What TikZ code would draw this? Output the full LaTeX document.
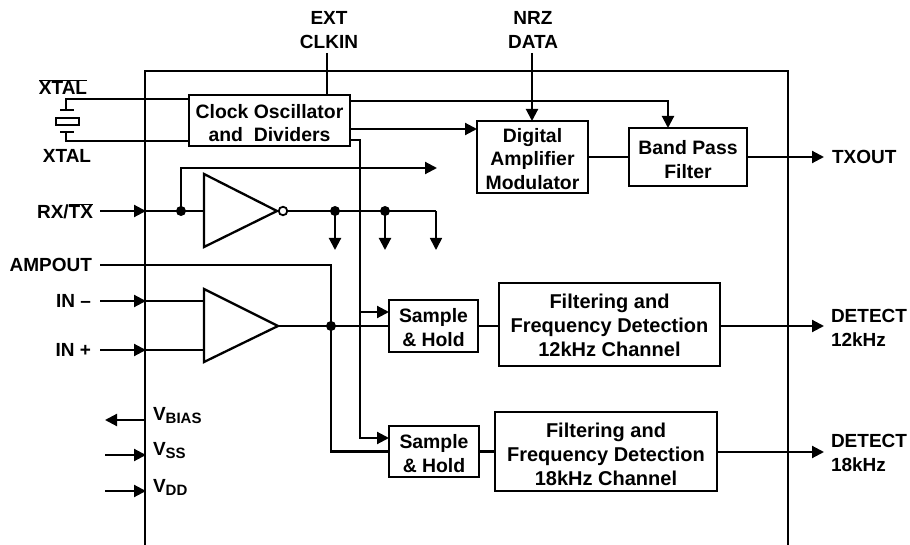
\documentclass[tikz,border=0pt]{standalone}
\usepackage{fontspec}
\setmainfont{Liberation Sans}
\usetikzlibrary{arrows.meta}
\newcommand{\ovl}[1]{\ensuremath{\overline{\mbox{\bfseries #1}}}}
\newcommand{\vsub}[1]{V\raisebox{-3pt}{\fontsize{15}{15}\selectfont\bfseries #1}}
\newcommand{\dn}[1]{\rule{0pt}{\dimexpr 14pt+#1pt*2\relax}}
\tikzset{
  wire/.style={line width=2.1pt,line join=miter},
  thin wire/.style={line width=1.7pt},
  arr/.style={wire,-{Triangle[length=12pt,width=12pt]}},
  box/.style={draw,line width=2.5pt,fill=white,inner sep=0pt,outer sep=0pt,align=center,font=\fontsize{19.4}{24}\selectfont\bfseries},
  widebox/.style={box,font=\fontsize{20}{24}\selectfont\bfseries},
  lab/.style={inner sep=0pt,outer sep=0pt,align=center,font=\fontsize{19}{24}\selectfont\bfseries},
  lableft/.style={lab,anchor=east},
  labstart/.style={lab,anchor=west,align=left},
  amp/.style={draw,line width=2.3pt,line join=miter},
  junction/.style={circle,fill=black,inner sep=0pt,minimum size=10pt},
  bubble/.style={circle,draw,fill=white,line width=1.8pt,inner sep=0pt,minimum size=8.5pt},
  plate/.style={line width=2.3pt}
}
\begin{document}
\begin{tikzpicture}[x=1pt,y=-1pt]
\useasboundingbox (0,0) rectangle (910,545);
% chip outline (open at the bottom)
\draw[line width=2.2pt] (145,545) -- (145,71) -- (788,71) -- (788,545);

% blocks
\node[box,minimum width=161pt,minimum height=51pt] (clock) at (269.5,120.5) {\dn{3}Clock Oscillator\\[-1pt]and~ Dividers};
\node[box,minimum width=111pt,minimum height=72pt,font=\fontsize{19.4}{23.5}\selectfont\bfseries] (dig) at (532.5,157) {\dn{2}Digital\\Amplifier\\Modulator};
\node[box,minimum width=118pt,minimum height=58pt] (bpf) at (688,157) {\dn{3}Band Pass\\Filter};
\node[box,minimum width=89pt,minimum height=52pt] (sh1) at (433.5,326) {\dn{2}Sample\\\& Hold};
\node[box,minimum width=90pt,minimum height=51pt] (sh2) at (434,451.5) {\dn{2}Sample\\\& Hold};
\node[widebox,minimum width=221pt,minimum height=83pt] (f1) at (609.5,324.5) {\dn{1}Filtering and\\Frequency Detection\\12kHz Channel};
\node[widebox,minimum width=222pt,minimum height=79pt] (f2) at (606,451.5) {\dn{3}Filtering and\\Frequency Detection\\18kHz Channel};

% amplifiers
\coordinate (invL) at (204,211);
\coordinate (invR) at (277,211);
\draw[amp] (204,174) -- (invR) -- (204,247) -- cycle;
\coordinate (ampL) at (204,326);
\coordinate (ampR) at (278,326);
\draw[amp] (204,289) -- (ampR) -- (204,362) -- cycle;
\node[bubble] (bub) at (283,211) {};

% outer labels
\node[lab] (ext) at (329,30) {EXT\\CLKIN};
\node[lab] (nrz) at (533,30) {NRZ\\DATA};
\node[lab] (xtalb) at (63,87) {\ovl{XTAL}};
\node[lab] (xtal) at (67,156) {XTAL};
\node[lableft] (rxtx) at (93,211) {RX/\ovl{TX}};
\node[lableft] (ampout) at (92,265) {AMPOUT};
\node[lableft] (inm) at (91,301) {IN –};
\node[lableft] (inp) at (91,350) {IN +};
\node[labstart] (tx) at (832,157) {TXOUT};
\node[labstart] (d12) at (831,328) {DETECT\\12kHz};
\node[labstart] (d18) at (831,453) {DETECT\\18kHz};
\node[labstart] (vb) at (153,416) {\vsub{BIAS}};
\node[labstart] (vs) at (153,451) {\vsub{SS}};
\node[labstart] (vd) at (153,487) {\vsub{DD}};

% named points
\coordinate (extE) at (327,53);
\coordinate (nrzE) at (532,53);
\coordinate (clkA) at (350,101);
\coordinate (bpfA) at (668,128);
\coordinate (clkB) at (350,129);
\coordinate (digB) at (477,129);
\coordinate (clkC) at (350,140);
\coordinate (vbus) at (360,140);
\coordinate (sh1A) at (389,312);
\coordinate (sh2A) at (389,438);
\coordinate (rxS) at (100,211);
\coordinate (pinR) at (146,211);
\coordinate (fbTip) at (437,168);
\coordinate (ampS) at (100,265);
\coordinate (inmS) at (100,301);
\coordinate (inmP) at (146,301);
\coordinate (inmA) at (204,301);
\coordinate (inpS) at (100,350);
\coordinate (inpP) at (146,350);
\coordinate (inpA) at (204,350);
\coordinate (txT) at (824,157);
\coordinate (d12T) at (824,326);
\coordinate (d18T) at (824,452);
\coordinate (vbS) at (145,420);
\coordinate (vbT) at (105,420);
\coordinate (vsS) at (105,455);
\coordinate (vsT) at (146,455);
\coordinate (vdS) at (105,491);
\coordinate (vdT) at (146,491);
\coordinate (tapA) at (335,211);
\coordinate (tapB) at (385,211);
\coordinate (tapC) at (436,211);
\coordinate (tipA) at (335,250);
\coordinate (tipB) at (385,250);
\coordinate (tipC) at (436,250);
\coordinate (fbJ) at (181,211);
\coordinate (ampJ) at (331,326);
\coordinate (xTop) at (66,99);
\coordinate (xTopP) at (66,110);
\coordinate (xBot) at (66,141);
\coordinate (xBotP) at (66,132);

% connectors at the top
\draw[thin wire] (extE) -- (extE |- clock.north);
\draw[arr] (nrzE) -- (nrzE |- dig.north);
\draw[arr] (clkA) -| (bpfA);
\draw[arr] (clkB) -- (digB);
\draw[wire] (dig.east) -- (bpf.west);
\draw[arr] (bpf.east) -- (txT);

% bus from the clock block
\draw[arr] (clkC) -- (vbus) |- (sh2A);
\draw[arr] (vbus |- sh1A) -- (sh1A);

% receive / transmit control
\draw[arr] (rxS) -- (pinR);
\draw[wire] (pinR) -- (invL);
\draw[arr] (fbJ) |- (fbTip);
\draw[wire] (bub.east) -- (tapC);
\draw[arr] (tapA) -- (tipA);
\draw[arr] (tapB) -- (tipB);
\draw[arr,line width=1.7pt] (tapC) -- (tipC);
\node[junction] (jf) at (fbJ) {};
\node[junction] (ja) at (tapA) {};
\node[junction] (jb) at (tapB) {};

% receive inputs
\draw[wire] (ampS) -| (ampJ);
\draw[arr] (inmS) -- (inmP);
\draw[wire] (inmP) -- (inmA);
\draw[arr] (inpS) -- (inpP);
\draw[wire] (inpP) -- (inpA);
\draw[wire] (ampR) -- (sh1.west);
\draw[wire] (ampJ) |- (sh2.west);
\node[junction] (jr) at (ampJ) {};

% outputs
\draw[wire] (sh1.east) -- (sh1.east -| f1.west);
\draw[wire] (sh2.east) -- (f2.west);
\draw[arr] (f1.east |- d12T) -- (d12T);
\draw[arr] (f2.east |- d18T) -- (d18T);

% supply pins
\draw[arr] (vbS) -- (vbT);
\draw[arr] (vsS) -- (vsT);
\draw[arr] (vdS) -- (vdT);

% crystal
\draw[wire] (clock.west |- xTop) -- (xTop) -- (xTopP);
\draw[wire] (clock.west |- xBot) -- (xBot) -- (xBotP);
\draw[plate] (60,110) -- (74,110);
\draw[plate] (60,132) -- (74,132);
\draw[line width=2.2pt] (56,118) rectangle (79,125);
\end{tikzpicture}
\end{document}
